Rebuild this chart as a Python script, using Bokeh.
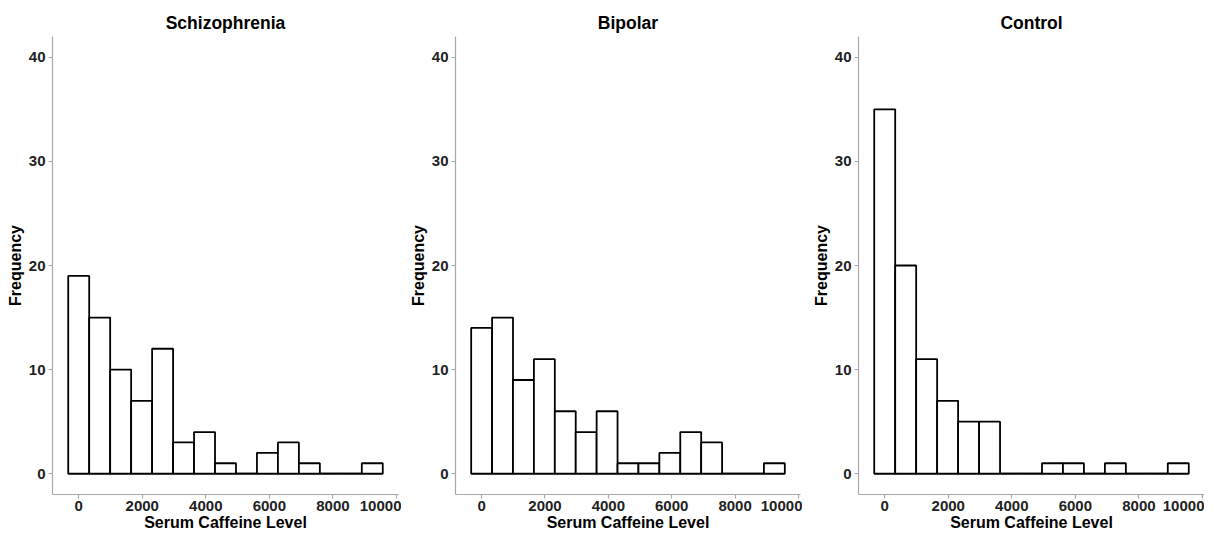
from bokeh.plotting import figure
from bokeh.layouts import row
from bokeh.models import Range1d, FixedTicker
from bokeh.embed import file_html
from bokeh.resources import INLINE

# Histogram bin edges (serum caffeine level)
bin_edges = [-330, 330, 990, 1650, 2310, 2970, 3630, 4290, 4950,
             5610, 6270, 6930, 7590, 8250, 8910, 9570]

groups = ["Schizophrenia", "Bipolar", "Control"]
schizophrenia_counts = [19, 15, 10, 7, 12, 3, 4, 1, 0, 2, 3, 1, 0, 0, 1]
bipolar_counts = [14, 15, 9, 11, 6, 4, 6, 1, 1, 2, 4, 3, 0, 0, 1]
control_counts = [35, 20, 11, 7, 5, 5, 0, 0, 1, 1, 0, 1, 0, 0, 1]

x_ticks = [0, 2000, 4000, 6000, 8000, 10000]
y_ticks = [0, 10, 20, 30, 40]
y_limits = [0, 40]

x_label = "Serum Caffeine Level"
y_label = "Frequency"

FONT = "Liberation Sans"
AXIS_GREY = "#a9a9a9"

series = [schizophrenia_counts, bipolar_counts, control_counts]
widths = [401, 401, 402]
lefts = [52, 54, 56]
rights = [3, 2, 0]

span = bin_edges[-1] - bin_edges[0]
ypad = 0.05 * (y_limits[1] - y_limits[0])

figs = []
for name, counts, w, lb, rb in zip(groups, series, widths, lefts, rights):
    p = figure(width=w, height=533, output_backend="svg", toolbar_location=None,
               x_range=Range1d(bin_edges[0] - 0.05 * span, bin_edges[-1] + 0.05 * span),
               y_range=Range1d(y_limits[0] - ypad, y_limits[1] + ypad),
               min_border_left=lb, min_border_right=rb, min_border_top=36,
               min_border_bottom=0)
    p.title.text = name
    p.title.align = "center"
    p.title.text_font = FONT
    p.title.text_font_style = "bold"
    p.title.text_font_size = "17.5px"
    p.title.text_color = "black"
    p.title.standoff = 7
    p.outline_line_color = None
    p.xgrid.visible = False
    p.ygrid.visible = False
    p.background_fill_color = "white"
    p.border_fill_color = "white"

    # baseline spanning all bins (zero-count bins draw as a flat line)
    p.segment(x0=[bin_edges[0]], y0=[0], x1=[bin_edges[-1]], y1=[0],
              line_color="black", line_width=1.8)
    p.quad(left=bin_edges[:-1], right=bin_edges[1:], bottom=0, top=counts,
           fill_color="white", line_color="black", line_width=1.8)

    for ax, ticks in ((p.xaxis[0], x_ticks), (p.yaxis[0], y_ticks)):
        ax.ticker = FixedTicker(ticks=ticks)
        ax.axis_line_color = AXIS_GREY
        ax.axis_line_width = 1.2
        ax.major_tick_line_color = AXIS_GREY
        ax.major_tick_line_width = 1.2
        ax.major_tick_out = 4
        ax.major_tick_in = 0
        ax.minor_tick_line_color = None
        ax.major_label_text_font = FONT
        ax.major_label_text_font_style = "bold"
        ax.major_label_text_font_size = "15px"
        ax.major_label_text_color = "#222222"
        ax.axis_label_text_font = FONT
        ax.axis_label_text_font_style = "bold"
        ax.axis_label_text_font_size = "16px"
        ax.axis_label_text_color = "black"
    p.xaxis[0].axis_label = x_label
    p.yaxis[0].axis_label = y_label
    p.xaxis[0].major_label_standoff = 2
    p.xaxis[0].axis_label_standoff = 0
    p.yaxis[0].major_label_standoff = 3
    p.yaxis[0].axis_label_standoff = 2
    figs.append(p)

layout = row(*figs)
open("out.html", "w").write(file_html(layout, INLINE))
